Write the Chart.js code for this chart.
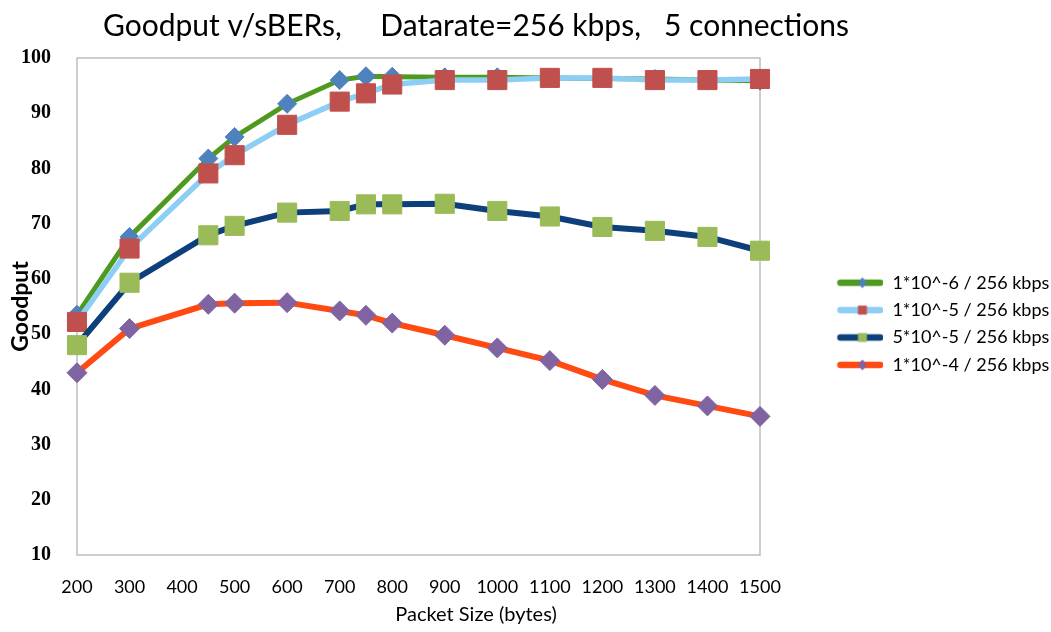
<!DOCTYPE html>
<html>
<head>
<meta charset="utf-8">
<title>Goodput vs BER</title>
<script src="https://cdn.jsdelivr.net/npm/chart.js@4.4.1/dist/chart.umd.min.js"></script>
<style>
  html, body { margin: 0; padding: 0; background: #ffffff; }
  canvas { display: block; }
</style>
</head>
<body>
<canvas id="goodputChart" width="1051" height="632"></canvas>
<script>
// Packet sizes (bytes) measured in the simulation runs
const packetSizes = [200, 300, 450, 500, 600, 700, 750, 800, 900, 1000, 1100, 1200, 1300, 1400, 1500];

// Goodput per bit error rate, 256 kbps link, 5 connections
const goodputBer1e6 = [53.5, 67.6, 81.8, 85.7, 91.7, 96.0, 96.7, 96.6, 96.5, 96.5, 96.4, 96.3, 96.2, 96.0, 95.9];
const goodputBer1e5 = [52.2, 65.5, 79.1, 82.4, 87.9, 92.1, 93.6, 95.2, 96.0, 96.0, 96.4, 96.4, 96.0, 96.0, 96.2];
const goodputBer5e5 = [48.0, 59.3, 67.9, 69.6, 72.0, 72.3, 73.5, 73.5, 73.6, 72.3, 71.3, 69.4, 68.7, 67.6, 65.1];
const goodputBer1e4 = [43.0, 51.0, 55.4, 55.6, 55.7, 54.2, 53.4, 52.0, 49.8, 47.5, 45.2, 41.8, 38.9, 37.0, 35.1];

const seriesLabels = ['1*10^-6 / 256 kbps', '1*10^-5 / 256 kbps', '5*10^-5 / 256 kbps', '1*10^-4 / 256 kbps'];
const seriesValues = [goodputBer1e6, goodputBer1e5, goodputBer5e5, goodputBer1e4];

const chartTitle = 'Goodput v/sBERs,     Datarate=256 kbps,   5 connections';
const xAxisTitle = 'Packet Size (bytes)';
const yAxisTitle = 'Goodput';

// Axis ranges
const xMin = 200, xMax = 1500, xStep = 100;
const yMin = 10, yMax = 100, yStep = 10;

// Line / marker styling per series
const seriesStyles = [
  { line: '#4e9a1f', width: 5,   marker: '#4f81bd', shape: 'rectRot', radius: 9.5 },
  { line: '#8dcff4', width: 5.5, marker: '#c0504d', shape: 'rect',    radius: 13.5 },
  { line: '#0d3f7a', width: 6,   marker: '#9bbb59', shape: 'rect',    radius: 13.5 },
  { line: '#ff4a12', width: 6,   marker: '#8064a2', shape: 'rectRot', radius: 10 }
];

const textFont = 'Lato, "Open Sans", sans-serif';
const serifFont = '"Liberation Serif", "DejaVu Serif", serif';

// Legend swatch: a short thick line with the series marker on it
const swatchWidth = 114;
function makeSwatch(st) {
  const c = document.createElement('canvas');
  c.width = swatchWidth; c.height = 20;
  const g = c.getContext('2d');
  g.strokeStyle = st.line; g.lineWidth = 6.5; g.lineCap = 'round';
  g.beginPath(); g.moveTo(71, 10); g.lineTo(111, 10); g.stroke();
  g.fillStyle = st.marker;
  if (st.shape === 'rect') {
    g.fillRect(93 - 4.5, 10 - 4.5, 9, 9);
  } else {
    g.beginPath();
    g.moveTo(93, 4.5); g.lineTo(97.5, 10); g.lineTo(93, 15.5); g.lineTo(88.5, 10);
    g.closePath(); g.fill();
  }
  return c;
}
const swatches = seriesStyles.map(makeSwatch);

const datasets = seriesLabels.map((label, i) => {
  const st = seriesStyles[i];
  return {
    label,
    data: packetSizes.map((x, k) => ({ x, y: seriesValues[i][k] })),
    borderColor: st.line,
    backgroundColor: st.marker,
    borderWidth: st.width,
    tension: 0,
    pointStyle: st.shape,
    pointRadius: st.radius,
    pointHoverRadius: st.radius,
    pointBackgroundColor: st.marker,
    pointBorderColor: st.marker,
    pointBorderWidth: 1,
    clip: false,
    // first series is painted first, later ones on top of it
    order: seriesLabels.length - i
  };
});

// Grey frame around the plot area
const plotFrame = {
  id: 'plotFrame',
  beforeDatasetsDraw(chart) {
    const { ctx, chartArea: a } = chart;
    ctx.save();
    ctx.strokeStyle = '#bdbdbd';
    ctx.lineWidth = 1.5;
    ctx.strokeRect(a.left, a.top, a.right - a.left, a.bottom - a.top);
    ctx.restore();
  }
};

// Center the chart title and the x axis caption over the left part of the canvas
const titleCenterX = 476;
const centerTitles = {
  id: 'centerTitles',
  afterLayout(chart) {
    chart.boxes.forEach(b => {
      if (b.options && (b.options.text === chartTitle || b.options.text === xAxisTitle)) {
        b.left = 0;
        b.right = titleCenterX * 2;
        b.width = b.right - b.left;
      }
    });
  }
};

new Chart(document.getElementById('goodputChart'), {
  type: 'line',
  data: { datasets },
  plugins: [plotFrame, centerTitles],
  options: {
    responsive: false,
    animation: false,
    events: [],
    layout: { padding: { top: 0, right: 0, bottom: 0, left: 0 } },
    scales: {
      x: {
        type: 'linear',
        min: xMin, max: xMax,
        grid: { display: false },
        border: { display: false },
        ticks: {
          stepSize: xStep,
          autoSkip: false,
          maxRotation: 0,
          padding: 13,
          color: '#000000',
          font: { family: textFont, size: 18 },
          callback: (value) => String(value)
        },
        afterFit(scale) { scale.height = 40; }
      },
      y: {
        type: 'linear',
        min: yMin, max: yMax,
        grid: { display: false },
        border: { display: false },
        ticks: {
          stepSize: yStep,
          padding: 18,
          color: '#000000',
          font: { family: serifFont, size: 20, weight: 'bold' },
          callback: (value) => String(value)
        },
        title: {
          display: true,
          text: yAxisTitle,
          color: '#000000',
          font: { family: textFont, size: 23, weight: 'bold' },
          padding: { top: 7, bottom: 0 }
        },
        afterFit(scale) { scale.width = 77; }
      }
    },
    plugins: {
      title: {
        display: true,
        text: chartTitle,
        color: '#000000',
        font: { family: textFont, size: 30, weight: 'normal', lineHeight: 1.2 },
        padding: { top: 8, bottom: 14 }
      },
      subtitle: {
        display: true,
        position: 'bottom',
        text: xAxisTitle,
        color: '#000000',
        font: { family: textFont, size: 20, weight: 'normal', lineHeight: 1.2 },
        padding: { top: 8, bottom: 5 }
      },
      legend: {
        position: 'right',
        align: 'center',
        maxWidth: 291,
        title: { display: true, text: '', font: { size: 13 }, padding: 0 },
        labels: {
          usePointStyle: true,
          pointStyleWidth: swatchWidth,
          padding: 9.4,
          color: '#000000',
          font: { family: textFont, size: 18 },
          sort: (a, b) => a.datasetIndex - b.datasetIndex,
          generateLabels(chart) {
            const items = Chart.defaults.plugins.legend.labels.generateLabels(chart);
            items.forEach((it) => { it.pointStyle = swatches[it.datasetIndex]; });
            return items;
          }
        }
      },
      tooltip: { enabled: false }
    }
  }
});
</script>
</body>
</html>
